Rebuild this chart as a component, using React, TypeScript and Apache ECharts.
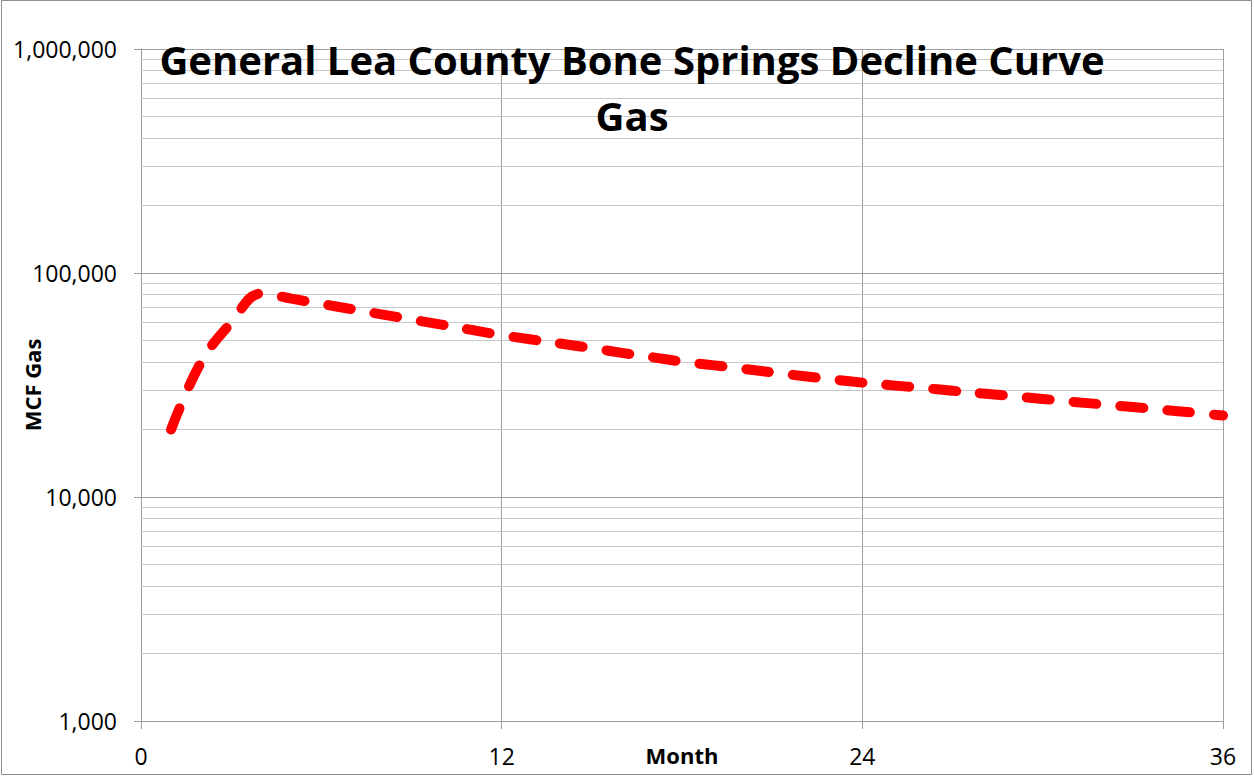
import React, { useEffect, useRef } from "react";
import * as echarts from "echarts";

const months: number[] = [1, 2, 3, 4, 5, 6, 7, 8, 9, 10, 11, 12, 13, 14, 15, 16, 17, 18, 19, 20, 21, 22, 23, 24, 25, 26, 27, 28, 29, 30, 31, 32, 33, 34, 35, 36];
const gasMcf: number[] = [20000, 40000, 60000, 81000, 76800, 72800, 69000, 65400, 62000, 58800, 55700, 52800, 50500, 48300, 46200, 44000, 42100, 40200, 38800, 37400, 36000, 34700, 33500, 32400, 31500, 30700, 29800, 29000, 28200, 27400, 26600, 25900, 25200, 24500, 23800, 23100];
const minorGridValues: number[] = [
  2000, 3000, 4000, 5000, 6000, 7000, 8000, 9000,
  20000, 30000, 40000, 50000, 60000, 70000, 80000, 90000,
  200000, 300000, 400000, 500000, 600000, 700000, 800000, 900000,
];
const titleLines: string[] = ["General Lea County Bone Springs Decline Curve", "Gas"];
const xAxisName = "Month";
const yAxisName = "MCF Gas";

const FONT = "'Open Sans', 'Liberation Sans', sans-serif";

export default function App() {
  const ref = useRef<HTMLDivElement>(null);
  useEffect(() => {
    if (!ref.current) return;
    const chart = echarts.init(ref.current, null, { renderer: "svg" });
    chart.setOption({
      animation: false,
      backgroundColor: "#ffffff",
      title: {
        text: titleLines.join("\n"),
        left: 627,
        top: 26,
        textAlign: "center",
        textStyle: {
          fontFamily: FONT,
          fontWeight: "bold",
          fontSize: 40,
          lineHeight: 56,
          color: "#000000",
        },
      },
      graphic: [
        {
          type: "rect",
          shape: { x: 1.5, y: 0.5, width: 1250, height: 774 },
          style: { fill: "none", stroke: "#8c8c8c", lineWidth: 1 },
          silent: true,
        },
      ],
      grid: { left: 141, right: 31, top: 49, bottom: 55, containLabel: false, outerBoundsMode: "none" },
      xAxis: {
        type: "value",
        min: 0,
        max: 36,
        interval: 12,
        name: xAxisName,
        nameLocation: "middle",
        nameGap: 23,
        nameMoveOverlap: false,
        nameTextStyle: { fontFamily: FONT, fontWeight: "bold", fontSize: 22, color: "#000" },
        axisLine: { show: true, lineStyle: { color: "#9a9a9a", width: 1 } },
        axisTick: { show: true, length: 8, inside: false, lineStyle: { color: "#9a9a9a" } },
        axisLabel: { fontFamily: FONT, fontSize: 23, color: "#000", margin: 23 },
        splitLine: { show: true, lineStyle: { color: "#a0a0a0", width: 1 } },
      },
      yAxis: {
        type: "log",
        logBase: 10,
        min: 1000,
        max: 1000000,
        name: yAxisName,
        nameLocation: "middle",
        nameGap: 98,
        nameRotate: 90,
        nameMoveOverlap: false,
        nameTextStyle: { fontFamily: FONT, fontWeight: "bold", fontSize: 22, color: "#000" },
        axisLine: { show: true, lineStyle: { color: "#9a9a9a", width: 1 } },
        axisTick: { show: true, length: 7, inside: false, lineStyle: { color: "#9a9a9a" } },
        axisLabel: {
          fontFamily: FONT,
          fontSize: 23,
          color: "#000",
          margin: 24,
          formatter: (v: number) => Math.round(v).toLocaleString("en-US"),
        },
        splitLine: { show: true, lineStyle: { color: "#a0a0a0", width: 1 } },
      },
      series: [
        {
          type: "line",
          name: "minor",
          data: [],
          silent: true,
          markLine: {
            silent: true,
            symbol: ["none", "none"],
            label: { show: false },
            lineStyle: { color: "#c8c8c8", width: 1, type: "solid" },
            data: minorGridValues.map((v) => ({ yAxis: v })),
          },
        },
        {
          type: "line",
          name: "Gas",
          data: months.map((m, i) => [m, gasMcf[i]]),
          smooth: 0.4,
          showSymbol: false,
          z: 5,
          lineStyle: {
            color: "#ff0000",
            width: 10,
            type: [23, 24],
            cap: "round",
            join: "round",
          },
        },
      ],
    });
    return () => chart.dispose();
  }, []);
  return (
    <div
      ref={ref}
      style={{ position: "fixed", left: 0, top: 0, width: 1254, height: 776 }}
    />
  );
}
